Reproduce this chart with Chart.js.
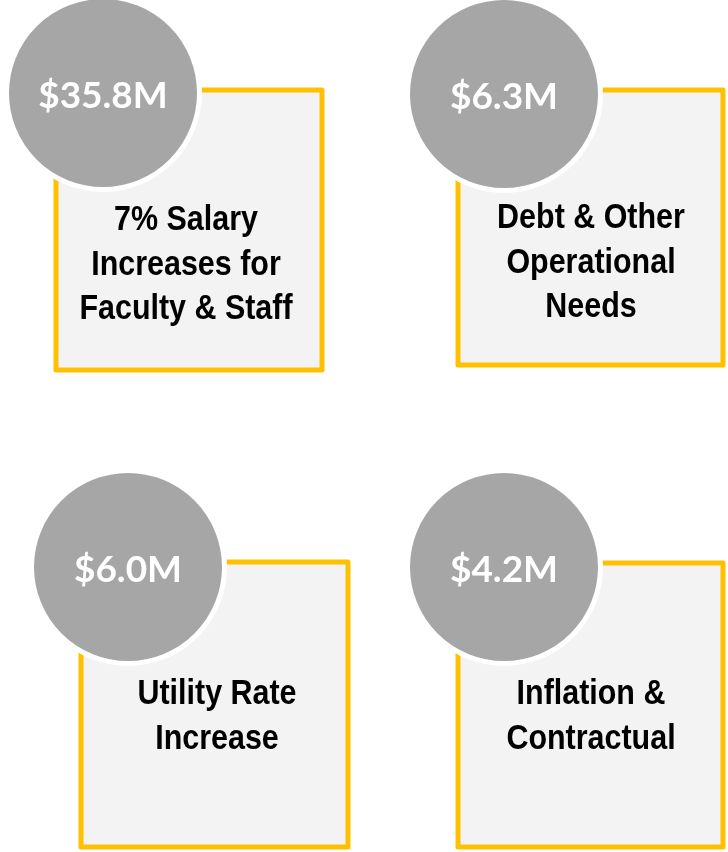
<!DOCTYPE html>
<html>
<head>
<meta charset="utf-8">
<script src="https://cdn.jsdelivr.net/npm/chart.js@4.4.1/dist/chart.umd.min.js"></script>
<style>
  html, body { margin: 0; padding: 0; background: #fff; }
  #wrap { width: 728px; height: 852px; }
</style>
</head>
<body>
<div id="wrap"><canvas id="cost-chart"></canvas></div>
<script>
// cost drivers and what each one adds ($ millions)
const categories = [
  ["7% Salary", "Increases for", "Faculty & Staff"],
  ["Debt & Other", "Operational", "Needs"],
  ["Utility Rate", "Increase"],
  ["Inflation &", "Contractual"]
];
const amounts = [35.8, 6.3, 6.0, 4.2];
const amountLabels = amounts.map(v => "$" + v.toFixed(1) + "M");

// page layout of each card (page units = px), kept apart from the data
const circleCenters = [[103, 93], [504, 94], [128, 567], [504, 567]];
const boxes = [[56, 90, 322, 370], [458, 90, 723, 365], [81, 562, 348, 847], [458, 563, 723, 847]];
const textCenters = [[186, 230], [591, 228], [217, 704], [591, 704]];

const YELLOW = "#FFC000";
const GREY = "#A6A6A6";
const BOX_FILL = "#F3F3F3";

const boxPlugin = {
  id: "cardBoxes",
  beforeDatasetsDraw(chart) {
    const ctx = chart.ctx;
    const x = chart.scales.x;
    const y = chart.scales.y;
    ctx.save();
    boxes.forEach(b => {
      let left = x.getPixelForValue(b[0]);
      let top = y.getPixelForValue(b[1]);
      let right = x.getPixelForValue(b[2]);
      let bottom = y.getPixelForValue(b[3]);
      ctx.fillStyle = BOX_FILL;
      ctx.fillRect(left, top, right - left, bottom - top);
      ctx.lineWidth = 5;
      ctx.lineJoin = "round";
      ctx.strokeStyle = YELLOW;
      ctx.strokeRect(left, top, right - left, bottom - top);
    });
    ctx.restore();
  }
};

const labelPlugin = {
  id: "cardLabels",
  afterDatasetsDraw(chart) {
    const ctx = chart.ctx;
    const x = chart.scales.x;
    const y = chart.scales.y;
    const points = chart.getDatasetMeta(0).data;
    ctx.save();
    ctx.textAlign = "center";
    ctx.textBaseline = "alphabetic";

    // amount inside each circle
    ctx.fillStyle = "#FFFFFF";
    ctx.font = "bold 37px Lato, 'Open Sans', sans-serif";
    points.forEach((p, i) => {
      ctx.fillText(amountLabels[i], p.x, p.y + 15);
    });

    // category text inside each box (narrow bold look)
    ctx.fillStyle = "#000000";
    ctx.font = "bold 35px 'Liberation Sans', Arial, sans-serif";
    categories.forEach((lines, i) => {
      let cx = x.getPixelForValue(textCenters[i][0]);
      let cy = y.getPixelForValue(textCenters[i][1]);
      lines.forEach((line, j) => {
        ctx.save();
        ctx.translate(cx, cy + j * 44.5);
        ctx.scale(0.87, 1);
        ctx.fillText(line, 0, 0);
        ctx.restore();
      });
    });
    ctx.restore();
  }
};

const chart = new Chart(document.getElementById("cost-chart"), {
  type: "bubble",
  data: {
    datasets: [
      {
        label: "Cost increase ($M)",
        data: circleCenters.map((c, i) => ({ x: c[0], y: c[1], r: 96.5, v: amounts[i] })),
        backgroundColor: GREY,
        borderColor: "#FFFFFF",
        borderWidth: 5,
        hoverBorderWidth: 5,
        clip: false
      }
    ]
  },
  options: {
    responsive: true,
    maintainAspectRatio: false,
    animation: false,
    events: [],
    layout: { padding: 0, autoPadding: false },
    plugins: {
      legend: { display: false },
      tooltip: { enabled: false }
    },
    scales: {
      x: { type: "linear", min: 0, max: 728, display: false },
      y: { type: "linear", min: 0, max: 852, reverse: true, display: false }
    }
  },
  plugins: [boxPlugin, labelPlugin]
});
</script>
</body>
</html>
